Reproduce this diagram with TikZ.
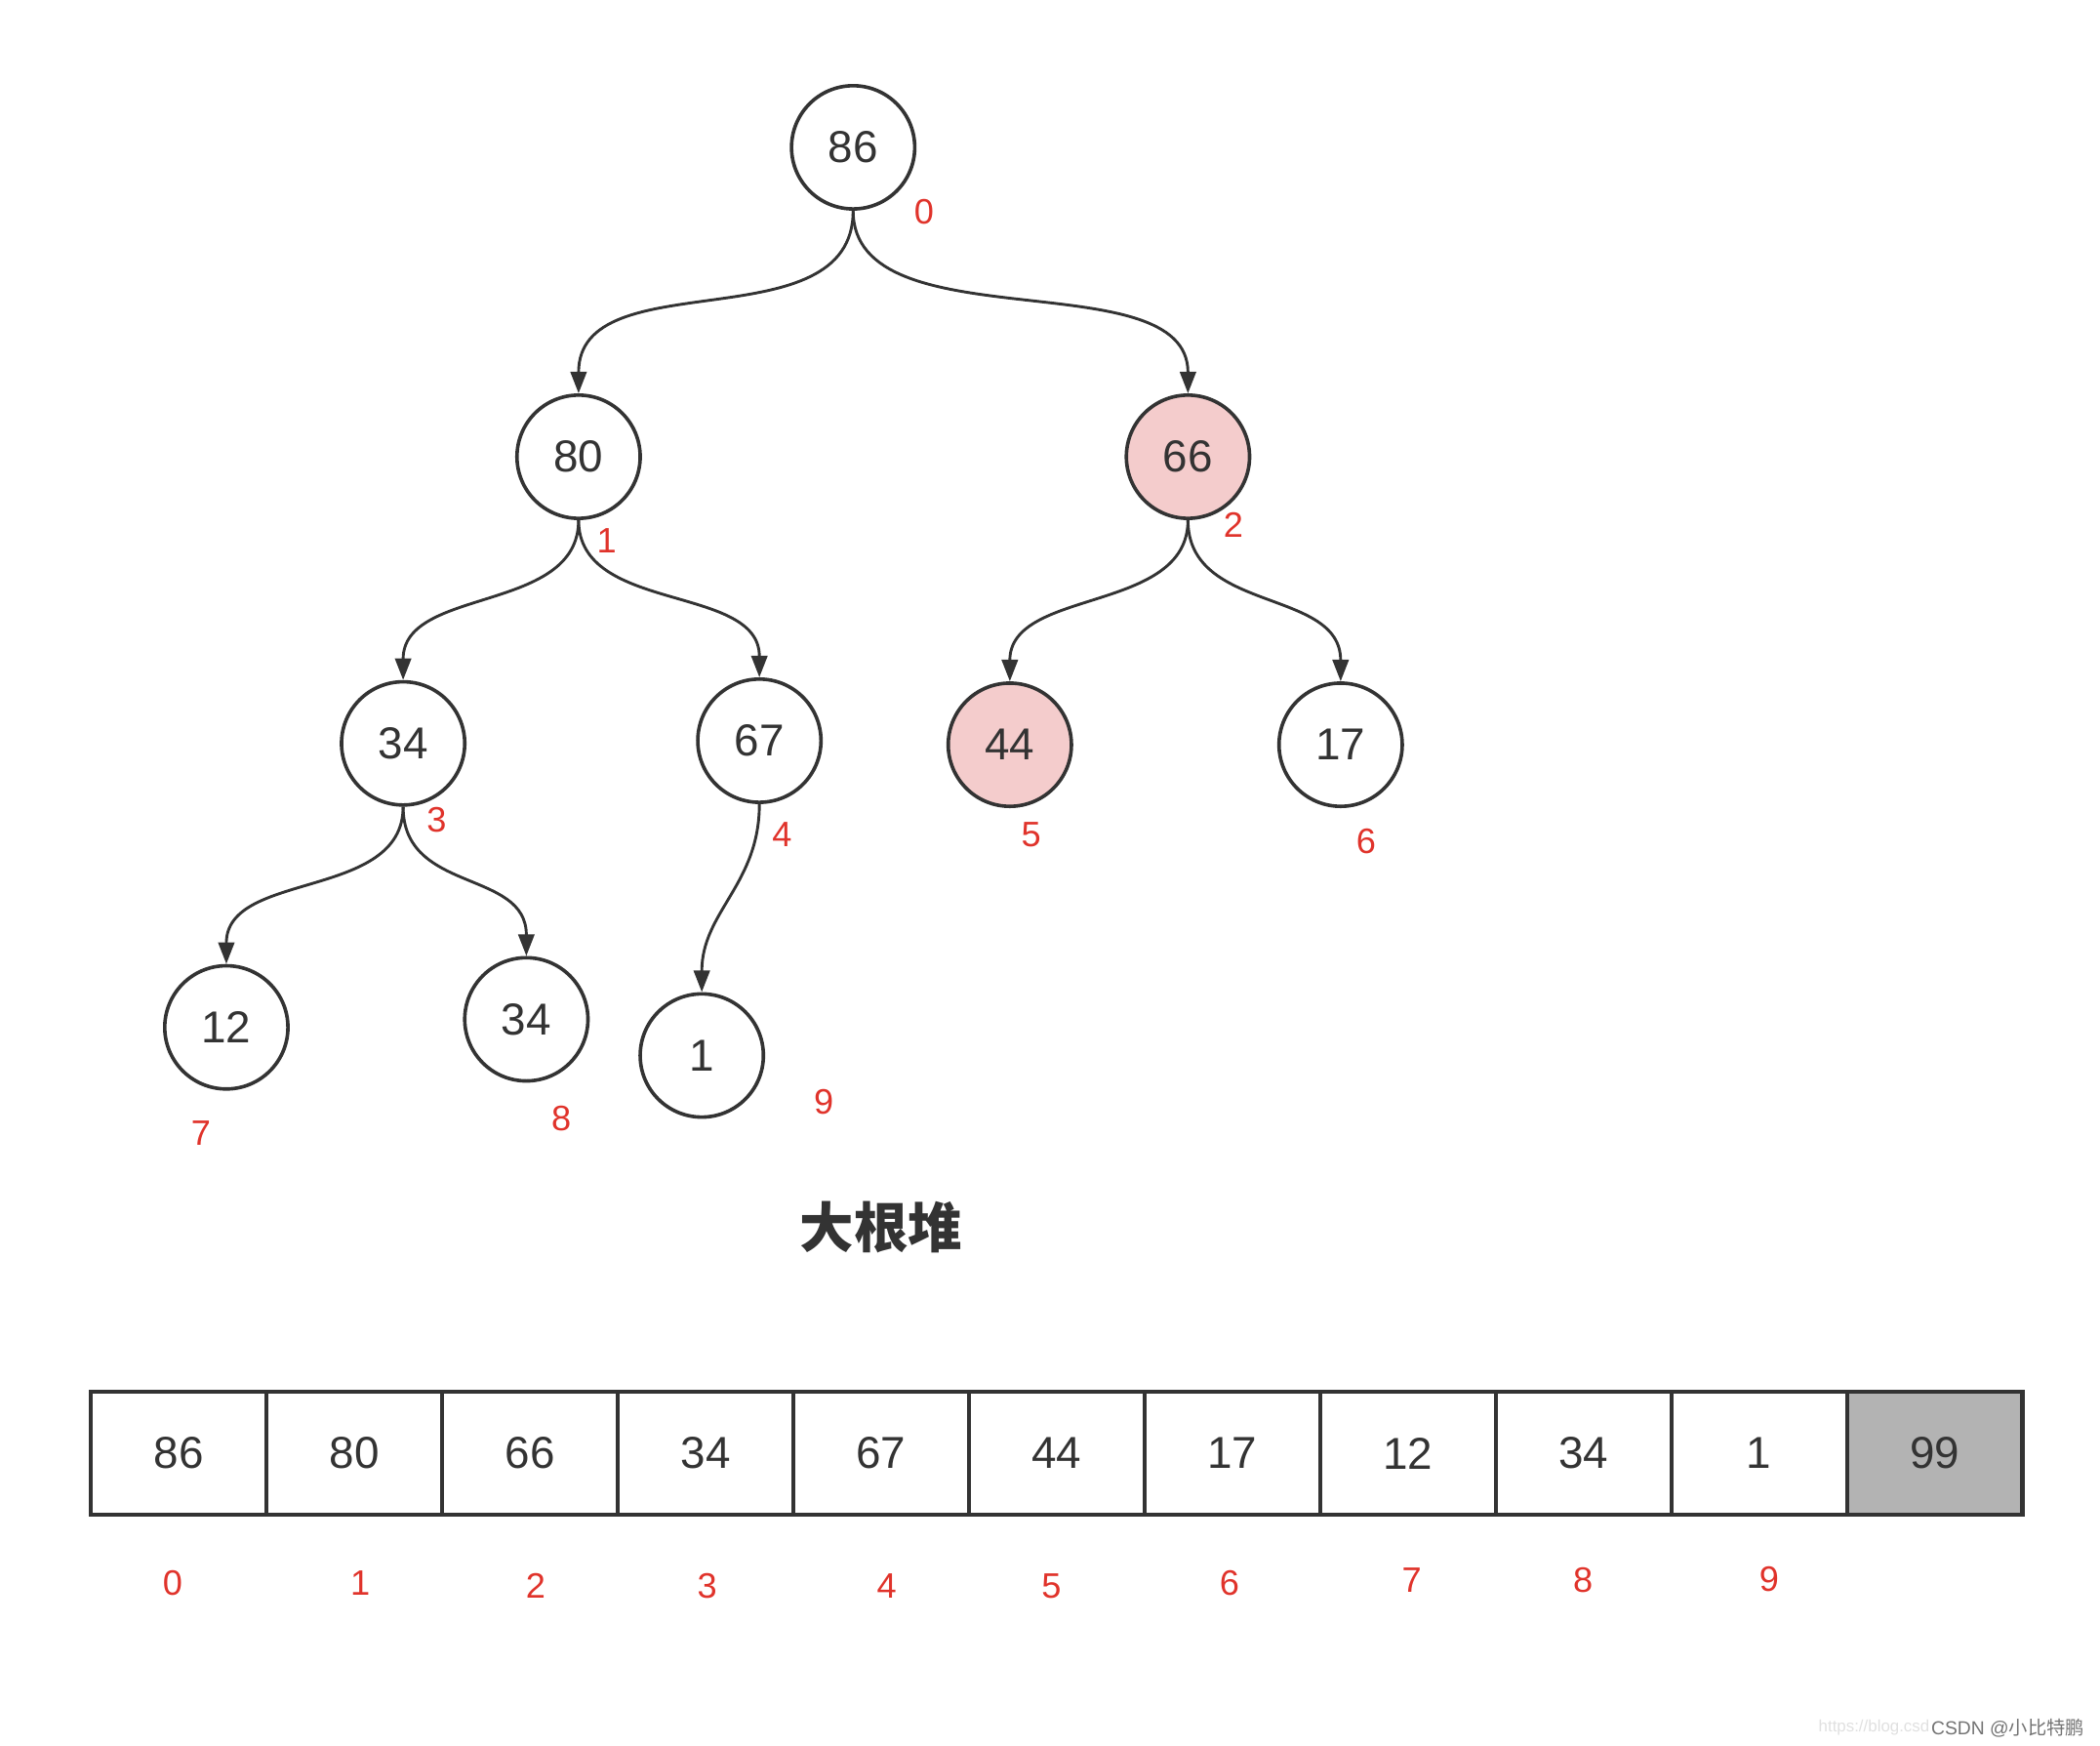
\documentclass[tikz,border=0pt]{standalone}
\usepackage{fontspec}
\setmainfont{Liberation Sans}
\newfontfamily\cjk{Noto Sans CJK SC}
\usepackage{xcolor}
\usetikzlibrary{arrows.meta}
\definecolor{heapink}{HTML}{333333}
\definecolor{heapred}{HTML}{E0332B}
\definecolor{heappink}{HTML}{F4CCCC}
\definecolor{heapgray}{HTML}{B3B3B3}

\begin{document}
\begin{tikzpicture}[x=1cm, y=-1cm,
  heapnode/.style={circle, draw=heapink, line width=0.75pt, minimum size=0.92cm, inner sep=0pt, text=heapink, font=\fontsize{9.5}{11}\selectfont},
  hotnode/.style={heapnode, fill=heappink},
  heapedge/.style={draw=heapink, line width=0.6pt, -{Triangle[length=4.6pt, width=3.4pt]}},
  idx/.style={text=heapred, inner sep=0pt, font=\fontsize{7.5}{8}\selectfont},
  cell/.style={draw=heapink, line width=0.85pt, minimum width=1.311cm, minimum height=0.92cm, inner sep=0pt, text=heapink, font=\fontsize{9.5}{11}\selectfont}]
  \useasboundingbox (0,0) rectangle (15.68,13.03);
  % tree
  \node[heapnode] (n0) at (6.37,1.10) {86};
  \node[heapnode] (n1) at (4.32,3.41) {80};
  \node[hotnode]  (n2) at (8.87,3.41) {66};
  \node[heapnode] (n3) at (3.01,5.55) {34};
  \node[heapnode] (n4) at (5.67,5.53) {67};
  \node[hotnode]  (n5) at (7.54,5.56) {44};
  \node[heapnode] (n6) at (10.01,5.56) {17};
  \node[heapnode] (n7) at (1.69,7.67) {12};
  \node[heapnode] (n8) at (3.93,7.61) {34};
  \node[heapnode] (n9) at (5.24,7.88) {1};
  \draw[heapedge] (n0.south) .. controls +(0,1) and +(0,-1) .. (n1.north);
  \draw[heapedge] (n0.south) .. controls +(0,1) and +(0,-1) .. (n2.north);
  \draw[heapedge] (n1.south) .. controls +(0,0.7) and +(0,-0.7) .. (n3.north);
  \draw[heapedge] (n1.south) .. controls +(0,0.7) and +(0,-0.7) .. (n4.north);
  \draw[heapedge] (n2.south) .. controls +(0,0.7) and +(0,-0.7) .. (n5.north);
  \draw[heapedge] (n2.south) .. controls +(0,0.7) and +(0,-0.7) .. (n6.north);
  \draw[heapedge] (n3.south) .. controls +(0,0.7) and +(0,-0.7) .. (n7.north);
  \draw[heapedge] (n3.south) .. controls +(0,0.65) and +(0,-0.65) .. (n8.north);
  \draw[heapedge] (n4.south) .. controls +(0,0.6) and +(0,-0.6) .. (n9.north);
  % tree indices
  \node[idx] (i0) at (6.90,1.58) {0};
  \node[idx] (i1) at (4.53,4.04) {1};
  \node[idx] (i2) at (9.21,3.92) {2};
  \node[idx] (i3) at (3.26,6.12) {3};
  \node[idx] (i4) at (5.84,6.23) {4};
  \node[idx] (i5) at (7.70,6.23) {5};
  \node[idx] (i6) at (10.20,6.28) {6};
  \node[idx] (i7) at (1.50,8.46) {7};
  \node[idx] (i8) at (4.19,8.35) {8};
  \node[idx] (i9) at (6.15,8.23) {9};
  \node[font=\cjk\bfseries\fontsize{11.5}{13}\selectfont, text=heapink] (title) at (6.58,9.16) {大根堆};
  % array
  \foreach \v [count=\i from 0] in {86,80,66,34,67,44,17,12,34,1}
    \node[cell] (c\i) at (1.335+1.311*\i,10.85) {\v};
  \node[cell, fill=heapgray] (c10) at (1.335+1.311*10,10.85) {99};
  \foreach \k/\x/\y in {0/1.29/11.82, 1/2.69/11.82, 2/4.00/11.84, 3/5.28/11.84, 4/6.62/11.84, 5/7.85/11.84, 6/9.18/11.82, 7/10.54/11.80, 8/11.82/11.80, 9/13.21/11.79}
    \node[idx] (a\k) at (\x,\y) {\k};
  % watermark
  \node[anchor=east, inner sep=0pt, text=black!55, font=\fontsize{4}{5}\selectfont] (wm) at (15.57,12.90) {CSDN @{\cjk 小比特鹏}};
  \node[anchor=east, inner sep=0pt, text=black!12, font=\fontsize{3.5}{4}\selectfont] (url) at (wm.west) {https://blog.csd};
\end{tikzpicture}
\end{document}
